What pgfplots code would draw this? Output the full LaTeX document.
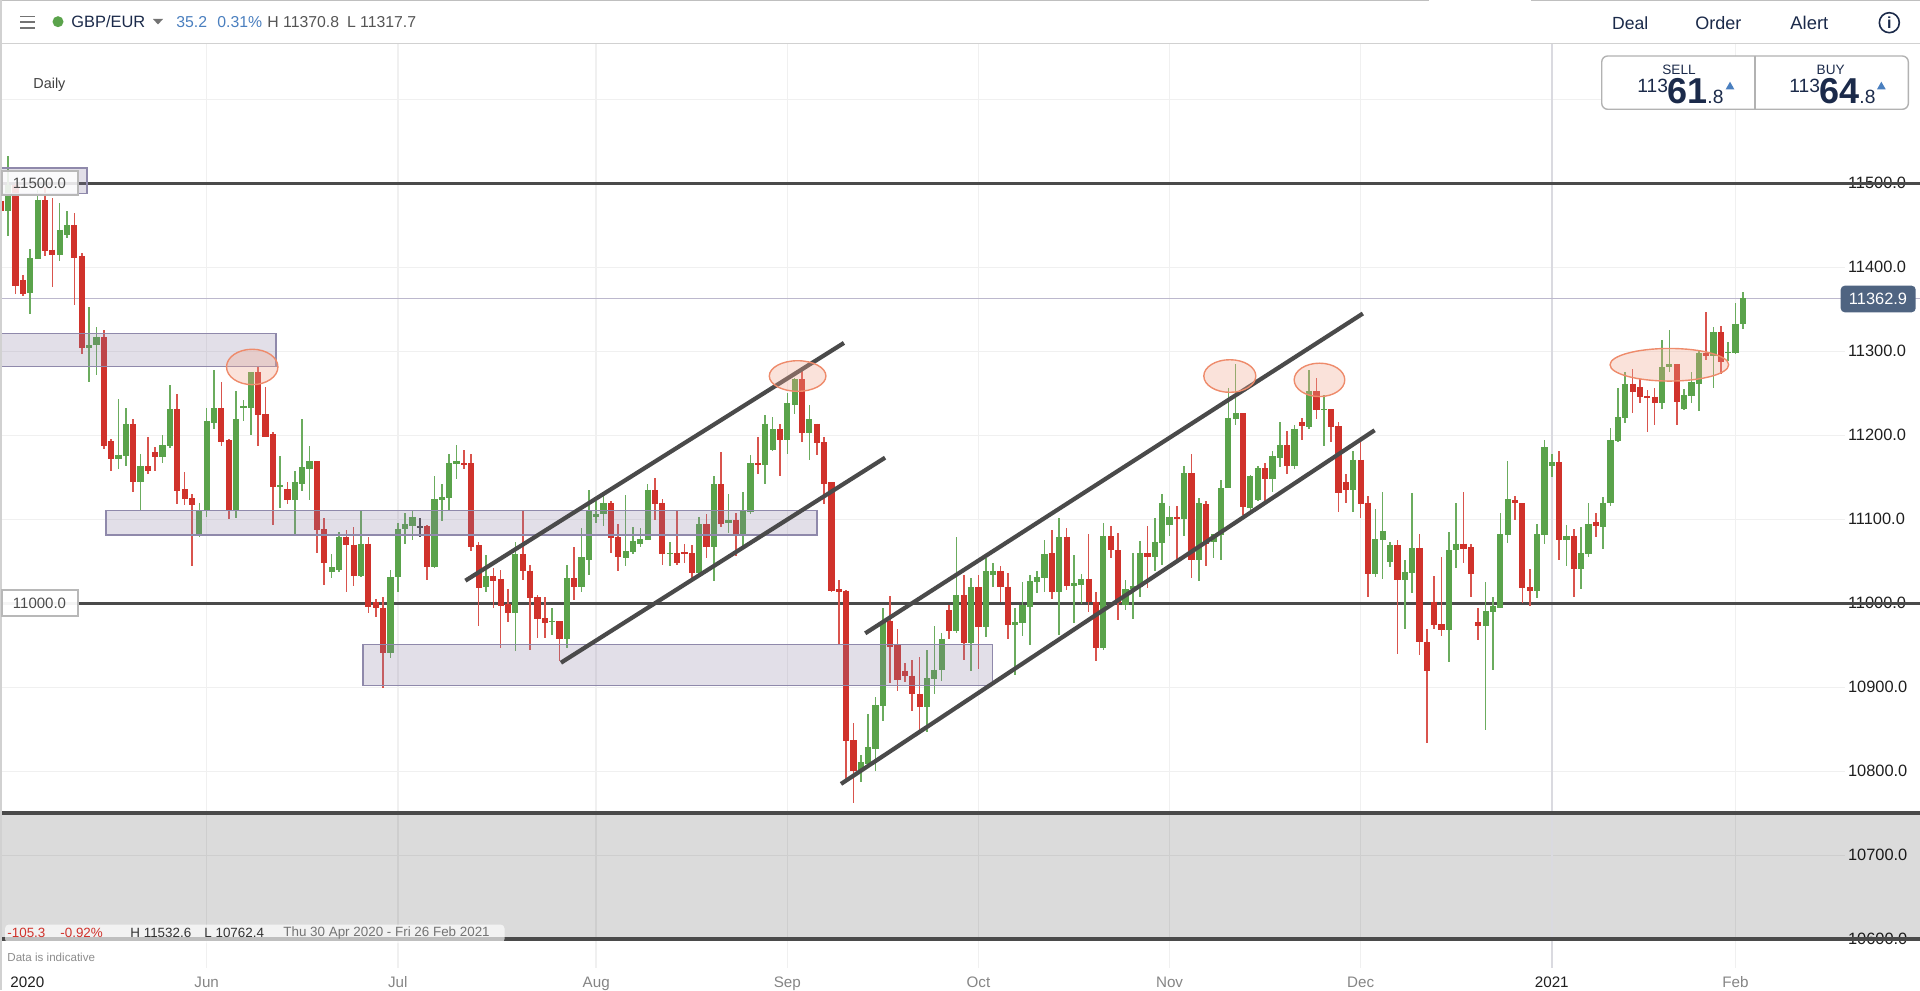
\documentclass[border=0pt]{standalone}
\usepackage{fontspec}
\setmainfont{Liberation Sans}
\usepackage{pgfplots}
\usepackage{pgfplotstable}
\pgfplotsset{compat=1.18}
\definecolor{cgreen}{HTML}{5AA34B}
\definecolor{cred}{HTML}{D0322B}
\definecolor{wgreen}{HTML}{6BAC5E}
\definecolor{wred}{HTML}{D9544D}
\definecolor{navy}{HTML}{1B2A4A}
\definecolor{bline}{HTML}{4A4A4A}
\definecolor{zonef}{HTML}{8B7FA3}
\definecolor{zoned}{HTML}{8F89AB}
\definecolor{ellf}{HTML}{F0A890}
\definecolor{elld}{HTML}{EE8B6B}
\definecolor{blue1}{HTML}{4A7FBF}
\definecolor{grayt}{HTML}{555555}
\definecolor{janline}{HTML}{DADAE0}
\pgfplotstableread{
i top bot hi lo
0 11498 11467 11533 11437
3 11411 11369 11422 11344
4 11480 11410 11492 11410
7 11445 11415 11476 11408
8 11450 11439 11467 11435
11 11307 11304 11353 11264
12 11317 11307 11329 11272
15 11177 11172 11243 11160
16 11213 11175 11232 11163
18 11163 11145 11178 11110
21 11188 11174 11200 11167
22 11231 11187 11260 11185
26 11110 11083 11120 11079
27 11217 11110 11232 11103
28 11232 11215 11278 11208
31 11219 11111 11253 11102
32 11235 11233 11242 11217
33 11275 11233 11275 11200
37 11141 11139 11175 11114
39 11144 11123 11158 11081
40 11162 11142 11220 11134
41 11169 11160 11187 11123
44 11043 11037 11059 11030
45 11079 11040 11085 11037
48 11071 11032 11110 11031
52 11031 10941 11040 10935
53 11089 11031 11096 11014
54 11094 11088 11107 11071
55 11103 11092 11110 11075
58 11124 11043 11151 11042
59 11127 11123 11142 11098
60 11167 11125 11178 11110
61 11170 11166 11188 11148
65 11032 11019 11057 11014
69 11059 10988 11073 10943
74 10979 10978 10994 10962
76 11030 10958 11046 10947
78 11055 11019 11090 11014
79 11110 11052 11135 11034
80 11106 11103 11122 11096
81 11119 11106 11133 11092
84 11062 11054 11129 11045
85 11074 11061 11091 11059
86 11076 11071 11090 11067
87 11135 11075 11142 11075
90 11060 11059 11073 11045
94 11094 11036 11103 11035
96 11142 11067 11151 11027
98 11099 11096 11130 11084
100 11110 11081 11132 11067
101 11167 11109 11177 11106
103 11214 11165 11224 11142
104 11207 11182 11222 11181
106 11238 11195 11250 11178
107 11267 11236 11268 11225
109 11219 11203 11236 11171
116 10811 10802 10819 10787
117 10829 10809 10868 10809
118 10879 10827 10888 10800
119 10978 10878 10995 10860
125 10911 10877 10944 10847
126 10921 10910 10973 10892
127 10958 10921 10965 10907
129 11010 10967 11079 10965
131 11019 10953 11030 10920
133 11038 10972 11054 10960
134 11038 11034 11048 11020
137 10978 10974 10994 10915
138 10998 10977 11025 10961
139 11027 10996 11034 10950
140 11031 11025 11039 11012
141 11059 11030 11075 11014
143 11079 11013 11101 10962
145 11024 11021 11057 10976
146 11029 11022 11035 10999
149 11080 10947 11096 10944
152 11017 10998 11028 10992
153 11021 11017 11060 10981
154 11060 11020 11074 11007
156 11073 11055 11102 11038
157 11120 11072 11130 11046
158 11103 11093 11116 11080
160 11155 11100 11163 11080
162 11119 11051 11125 11026
164 11083 11073 11083 11054
165 11137 11081 11147 11052
166 11221 11137 11256 11137
167 11226 11219 11285 11212
169 11151 11114 11153 11109
170 11161 11123 11163 11122
172 11175 11148 11181 11133
173 11188 11173 11216 11162
175 11208 11163 11212 11160
177 11253 11210 11278 11208
179 11231 11230 11248 11187
183 11171 11135 11181 11109
186 11076 11035 11112 11031
187 11086 11075 11132 11029
188 11069 11049 11073 11043
190 11037 11028 11052 10969
191 11066 11036 11131 11012
196 11063 10968 11085 10930
197 11071 11063 11120 11042
201 10991 10973 11025 10849
202 10997 10990 11008 10921
203 11082 10995 11108 10994
204 11124 11081 11169 11072
208 11082 11015 11094 11006
209 11186 11081 11194 11071
210 11168 11163 11178 11150
212 11080 11075 11093 11044
214 11060 11041 11091 11017
215 11095 11059 11119 11055
217 11120 11091 11126 11065
218 11194 11119 11209 11116
219 11222 11193 11256 11192
220 11261 11221 11275 11215
225 11281 11239 11314 11231
226 11285 11281 11325 11275
228 11248 11231 11255 11230
229 11263 11247 11275 11239
230 11298 11261 11302 11229
232 11323 11294 11329 11256
234 11299 11298 11311 11288
235 11333 11298 11357 11297
236 11363 11332 11371 11326
}\greencandles
\pgfplotstableread{
i top bot hi lo
-1 11479 11467 11479 11467
1 11498 11378 11500 11368
2 11385 11368 11391 11366
5 11480 11419 11496 11414
6 11421 11415 11482 11376
9 11450 11411 11465 11355
10 11413 11304 11417 11297
13 11317 11187 11325 11184
14 11193 11172 11196 11158
17 11213 11145 11220 11132
19 11163 11158 11198 11154
20 11180 11174 11186 11158
23 11231 11134 11249 11118
24 11136 11124 11156 11117
25 11125 11117 11130 11044
29 11232 11192 11263 11187
30 11194 11111 11196 11100
34 11275 11224 11281 11187
35 11225 11198 11257 11198
36 11201 11139 11204 11093
38 11136 11123 11145 11118
42 11169 11087 11169 11060
43 11088 11048 11102 11022
46 11079 11069 11087 11014
47 11070 11032 11091 11021
49 11071 10996 11079 10988
50 11002 10994 11005 10984
51 10995 10941 11007 10899
57 11092 11043 11093 11028
62 11167 11165 11183 11160
63 11167 11067 11178 11062
64 11069 11018 11073 10973
66 11032 11027 11042 10994
67 11029 10997 11040 10947
68 10999 10988 11017 10978
70 11059 11038 11110 11028
71 11039 11006 11046 10944
72 11007 10981 11010 10959
73 10982 10976 11008 10959
75 10979 10958 10979 10931
77 11030 11019 11067 11004
82 11119 11078 11122 11060
83 11079 11055 11095 11039
88 11135 11118 11149 11099
89 11120 11059 11124 11046
91 11060 11048 11110 11046
92 11061 11059 11071 11048
93 11060 11036 11069 11026
95 11094 11067 11106 11054
97 11142 11095 11180 11091
99 11099 11081 11108 11056
102 11167 11165 11198 11154
105 11207 11195 11213 11152
108 11267 11203 11277 11192
110 11214 11191 11214 11177
111 11192 11142 11198 11118
112 11144 11015 11144 11013
113 11017 11014 11028 10952
114 11015 10836 11016 10790
115 10837 10801 10857 10762
120 10979 10948 11009 10905
121 10950 10909 10970 10896
122 10920 10914 10929 10906
123 10914 10892 10933 10872
124 10892 10877 10936 10848
128 10992 10967 10998 10958
130 11010 10953 11034 10933
132 11019 10972 11034 10922
135 11038 11019 11045 11001
136 11020 10974 11036 10958
142 11060 11013 11087 11005
144 11079 11021 11090 11016
147 11029 11001 11083 10990
148 11002 10947 11013 10931
150 11080 11063 11092 11054
151 11063 11000 11084 10980
155 11060 11055 11092 11018
159 11103 11100 11116 11052
161 11155 11051 11178 11030
163 11118 11071 11122 11044
168 11226 11115 11226 11105
171 11161 11148 11167 11117
174 11188 11163 11205 11154
176 11216 11211 11221 11194
178 11253 11230 11268 11219
180 11231 11210 11231 11192
181 11211 11131 11216 11109
182 11144 11135 11154 11119
184 11171 11118 11198 11102
185 11120 11035 11128 11008
189 11069 11028 11075 10940
192 11066 10954 11082 10938
193 10954 10919 10970 10834
194 11002 10974 11032 10969
195 10975 10968 11055 10961
198 11071 11065 11133 11048
199 11067 11035 11071 11007
200 10978 10973 10995 10956
205 11123 11119 11128 11099
206 11119 11018 11119 11000
207 11019 11015 11041 10997
211 11168 11075 11181 11051
213 11080 11041 11089 11007
216 11097 11092 11107 11079
221 11261 11251 11279 11226
222 11257 11246 11267 11238
223 11247 11245 11254 11204
224 11246 11239 11256 11212
227 11285 11240 11285 11212
231 11298 11295 11347 11290
233 11323 11287 11330 11273
}\redcandles
\pgfplotstableread{
i top bot hi lo
56 11092 11090 11102 11079
}\darkcandles
\newcommand{\candles}[3]{%
 \addplot[forget plot,draw=none,mark=none,error bars/.cd,y dir=both,y explicit,error mark=none,
   error bar style={color=#2,line width=0.8pt}]
   table[x=i,y=top,y error plus expr=\thisrow{hi}-\thisrow{top},y error minus expr=\thisrow{top}-\thisrow{lo}] {#1};
 \addplot[forget plot,draw=none,mark=none,error bars/.cd,y dir=both,y explicit,error mark=none,
   error bar style={color=#3,line width=3.1pt,line cap=butt}]
   table[x=i,y=top,y error plus expr=0,y error minus expr=\thisrow{top}-\thisrow{bot}] {#1};
}
\begin{document}
\begin{tikzpicture}
\path[use as bounding box] (0,0) rectangle (960pt,495pt);
\begin{axis}[
  at={(0pt,11pt)},anchor=south west,clip=false,
  scale only axis,width=922.5pt,height=462.35pt,
  xmin=-1.116,xmax=249.9,ymin=10565.9,ymax=11666.7,
  axis line style={draw=none},major tick length=0pt,
  tick style={draw=none},
  grid=major,grid style={color=black!6,line width=0.8pt},
  xtick={27,53,80,106,132,158,184,210,235},
  xticklabels={Jun,Jul,Aug,Sep,Oct,Nov,Dec,{\color{black!88}2021},Feb},
  extra x ticks={2.6},extra x tick labels={\color{black!88}2020},extra x tick style={grid=none},
  xticklabel style={font=\fontsize{7.6}{9}\selectfont,text=black!48,inner sep=0pt,anchor=base,yshift=-9.6pt},
  ytick={10600,10700,10800,10900,11000,11100,11200,11300,11400,11500},
  extra y ticks={11600},extra y tick labels={},
  scaled y ticks=false,
  ytick pos=right,yticklabel pos=right,
  yticklabel style={font=\fontsize{8.2}{10}\selectfont,text=black!88,inner sep=0pt,anchor=west,xshift=1.3pt},
  /pgf/number format/fixed,/pgf/number format/fixed zerofill,/pgf/number format/precision=1,/pgf/number format/1000 sep={},/pgf/number format/assume math mode=true,
]
% grey band below the floor
\addplot[forget plot,draw=none,fill=black,fill opacity=0.14] coordinates {(-1.116,10750)(260.1,10750)(260.1,10600)(-1.116,10600)} \closedcycle;
% January separator
\addplot[forget plot,color=janline,line width=1pt] coordinates {(210,10565.9)(210,11666.7)};
% level lines
\addplot[forget plot,color=bline,line width=1.45pt] coordinates {(-1.116,11500)(260.1,11500)};
\addplot[forget plot,color=bline,line width=1.45pt] coordinates {(-1.116,11000)(260.1,11000)};
\addplot[forget plot,color=bline,line width=1.9pt] coordinates {(-1.116,10750)(260.1,10750)};
\addplot[forget plot,color=bline,line width=1.9pt] coordinates {(-1.116,10600)(260.1,10600)};
\addplot[forget plot,color=zoned!60,line width=0.75pt] coordinates {(-1.116,11362.9)(260.1,11362.9)};
% candles
\candles{\greencandles}{wgreen}{cgreen}
\candles{\redcandles}{wred}{cred}
\candles{\darkcandles}{black!70}{black!70}
% zones
\filldraw[draw=zoned,line width=0.8pt,fill=zonef,fill opacity=0.25] (axis cs:-1.116,11488) rectangle (axis cs:10.7,11518);
\filldraw[draw=zoned,line width=0.8pt,fill=zonef,fill opacity=0.25] (axis cs:-1.116,11282) rectangle (axis cs:36.4,11321);
\filldraw[draw=zoned,line width=0.8pt,fill=zonef,fill opacity=0.25] (axis cs:13.3,11081) rectangle (axis cs:110,11110.3);
\filldraw[draw=zoned,line width=0.8pt,fill=zonef,fill opacity=0.25] (axis cs:48.3,10902) rectangle (axis cs:133.9,10951);
% channels
\addplot[forget plot,color=bline,line width=2.1pt] coordinates {(62.2,11027)(113.7,11310)};
\addplot[forget plot,color=bline,line width=2.1pt] coordinates {(75.2,10929.3)(119.3,11173.4)};
\addplot[forget plot,color=bline,line width=2.1pt] coordinates {(116.6,10964.3)(184.3,11345)};
\addplot[forget plot,color=bline,line width=2.1pt] coordinates {(113.3,10785)(185.9,11206)};
% ellipses
\filldraw[draw=elld,line width=0.7pt,fill=ellf,fill opacity=0.33] (axis cs:33.2,11281.4) ellipse [x radius=12.85pt,y radius=8.85pt];
\filldraw[draw=elld,line width=0.7pt,fill=ellf,fill opacity=0.33] (axis cs:107.4,11270.6) ellipse [x radius=14.15pt,y radius=7.65pt];
\filldraw[draw=elld,line width=0.7pt,fill=ellf,fill opacity=0.33] (axis cs:166.2,11270.6) ellipse [x radius=13pt,y radius=8.15pt];
\filldraw[draw=elld,line width=0.7pt,fill=ellf,fill opacity=0.33] (axis cs:178.4,11266) ellipse [x radius=12.65pt,y radius=8.35pt];
\filldraw[draw=elld,line width=0.7pt,fill=ellf,fill opacity=0.33] (axis cs:226,11284) ellipse [x radius=29.65pt,y radius=8.15pt];
\end{axis}
\begin{scope}[x=0.5pt,y=-0.5pt,yshift=495pt]
% frame
\fill[white] (0,0) rectangle (1920,43);
\draw[color=black!18,line width=0.7pt] (0,43.3) -- (1920,43.3);
\draw[color=black!25,line width=1pt] (0,0.5) -- (1429,0.5) (1531,0.5) -- (1920,0.5);
\draw[color=black!18,line width=0.8pt] (0.8,0) -- (0.8,990);
% left header
\draw[color=black!55,line width=0.8pt] (20,16.7) -- (35,16.7) (20,22.3) -- (35,22.3) (20,28.3) -- (35,28.3);
\fill[cgreen] (58,21.7) circle [radius=5.5];
\node[anchor=west,inner sep=0pt,text=navy,font=\fontsize{8.2}{10}\selectfont] at (71,22) {GBP/EUR};
\fill[black!55] (153,19) -- (163,19) -- (158,24.5) -- cycle;
\node[anchor=west,inner sep=0pt,text=blue1,font=\fontsize{7.9}{10}\selectfont] at (176,22) {35.2};
\node[anchor=west,inner sep=0pt,text=blue1,font=\fontsize{7.9}{10}\selectfont] at (217,22) {0.31\%};
\node[anchor=west,inner sep=0pt,text=grayt,font=\fontsize{7.9}{10}\selectfont] at (267,22) {H 11370.8\enspace L 11317.7};
\node[anchor=west,inner sep=0pt,text=black!75,font=\fontsize{7.2}{9}\selectfont] at (33,85) {Daily};
% right header
\node[anchor=west,inner sep=0pt,text=navy,font=\fontsize{8.8}{10}\selectfont] at (1611.7,23) {Deal};
\node[anchor=west,inner sep=0pt,text=navy,font=\fontsize{9}{10}\selectfont] at (1695,23) {Order};
\node[anchor=west,inner sep=0pt,text=navy,font=\fontsize{9.2}{10}\selectfont] at (1790,23) {Alert};
\draw[color=navy,line width=0.8pt] (1889.3,22.7) circle [radius=10];
\node[inner sep=0pt,text=navy,font=\fontsize{8}{10}\selectfont\bfseries] at (1889.3,22.7) {i};
% price box
\filldraw[draw=black!30,line width=0.7pt,fill=white,rounded corners=3pt] (1601.7,56) rectangle (1908.3,109.3);
\draw[color=black!30,line width=1pt] (1755,56) -- (1755,109.3);
\node[inner sep=0pt,text=navy,font=\fontsize{6.8}{8}\selectfont] at (1679,70) {SELL};
\node[inner sep=0pt,text=navy,font=\fontsize{6.8}{8}\selectfont] at (1830.7,70) {BUY};
\node[anchor=base west,inner sep=0pt,text=navy,font=\fontsize{9.6}{10}\selectfont] at (1637,93) {113};
\node[anchor=base west,inner sep=0pt,text=navy,font=\fontsize{18}{20}\selectfont\bfseries] at (1667,103.5) {61};
\node[anchor=base west,inner sep=0pt,text=navy,font=\fontsize{9.6}{10}\selectfont] at (1707,103.5) {.8};
\fill[blue1] (1725.7,89.3) -- (1734.3,89.3) -- (1730,81.7) -- cycle;
\node[anchor=base west,inner sep=0pt,text=navy,font=\fontsize{9.6}{10}\selectfont] at (1789,93) {113};
\node[anchor=base west,inner sep=0pt,text=navy,font=\fontsize{18}{20}\selectfont\bfseries] at (1819,103.5) {64};
\node[anchor=base west,inner sep=0pt,text=navy,font=\fontsize{9.6}{10}\selectfont] at (1859,103.5) {.8};
\fill[blue1] (1877,89.3) -- (1885.7,89.3) -- (1881.3,81.7) -- cycle;
% level flags
\filldraw[draw=black!28,line width=1pt,fill=white,fill opacity=0.85] (1.5,170.7) rectangle (78,195.3);
\node[inner sep=0pt,text=black!70,font=\fontsize{7.5}{10}\selectfont] at (39.5,183.3) {11500.0};
\filldraw[draw=black!28,line width=1pt,fill=white,fill opacity=0.95] (1.5,590) rectangle (78,615.7);
\node[inner sep=0pt,text=black!70,font=\fontsize{7.5}{10}\selectfont] at (39.5,603.3) {11000.0};
\fill[fill={rgb,255:red,79;green,100;blue,129},rounded corners=2pt] (1840.7,285.7) rectangle (1915.7,312.3);
\node[inner sep=0pt,text=white,font=\fontsize{8.2}{10}\selectfont] at (1878,299) {11362.9};
% footer box
\fill[white,fill opacity=0.65,rounded corners=2pt] (5,924.5) rectangle (504.5,943);
\node[anchor=west,inner sep=0pt,text=cred,font=\fontsize{6.7}{8}\selectfont] at (7,933) {-105.3};
\node[anchor=west,inner sep=0pt,text=cred,font=\fontsize{6.7}{8}\selectfont] at (60,933) {-0.92\%};
\node[anchor=west,inner sep=0pt,text=black!80,font=\fontsize{6.7}{8}\selectfont] at (130,933) {H 11532.6};
\node[anchor=west,inner sep=0pt,text=black!80,font=\fontsize{6.7}{8}\selectfont] at (204,933) {L 10762.4};
\node[anchor=west,inner sep=0pt,text=black!55,font=\fontsize{6.7}{8}\selectfont] at (283,933) {Thu 30 Apr 2020 - Fri 26 Feb 2021};
\node[anchor=west,inner sep=0pt,text=black!45,font=\fontsize{5.8}{7}\selectfont] at (7,957.6) {Data is indicative};
\end{scope}
\end{tikzpicture}
\end{document}
